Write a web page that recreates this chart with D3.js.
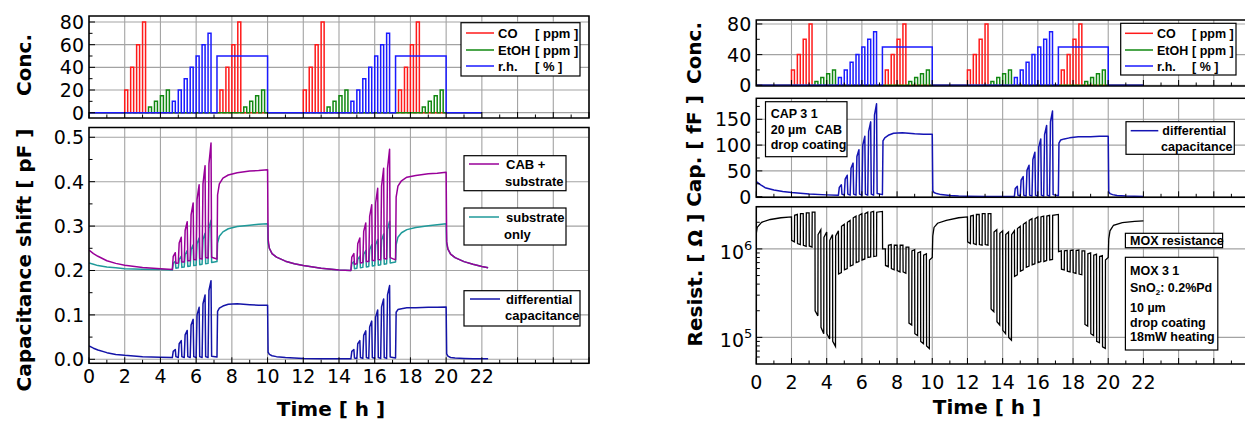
<!DOCTYPE html>
<html>
<head>
<meta charset="utf-8">
<script src="https://cdn.jsdelivr.net/npm/d3@7"></script>
<style>
  body { margin: 0; background: #fff; }
  svg text { font-family: "DejaVu Sans", sans-serif; fill: #000; }
  .tickLabel { font-size: 19px; }
  .axisTitle { font-size: 20px; font-weight: bold; }
  .leg { font-family: "Liberation Sans", Arial, sans-serif; font-weight: bold; font-size: 13px; }
  .legR { font-family: "Liberation Sans", Arial, sans-serif; font-weight: bold; font-size: 12.5px; }
</style>
</head>
<body>
<svg id="chart" width="1245" height="422"></svg>
<script>
// ---------- data ----------
const hourLabels = [0, 2, 4, 6, 8, 10, 12, 14, 16, 18, 20, 22];
const hourMajor = [0, 2, 4, 6, 8, 10, 12, 14, 16, 18, 20, 22, 24, 26, 28];
const hourMinor = [1, 3, 5, 7, 9, 11, 13, 15, 17, 19, 21, 23, 25, 27];

// gas pulses: [start h, end h, level]
const coPulses = [
  [2.0, 2.167, 20], [2.333, 2.5, 40], [2.667, 2.833, 60], [3.0, 3.167, 80],
  [7.333, 7.5, 20], [7.667, 7.833, 40], [8.0, 8.167, 60], [8.333, 8.5, 80],
  [12.0, 12.167, 20], [12.333, 12.5, 40], [12.667, 12.833, 60], [13.0, 13.167, 80],
  [17.333, 17.5, 20], [17.667, 17.833, 40], [18.0, 18.167, 60], [18.333, 18.5, 80]
];
const etohPulses = [
  [3.333, 3.5, 5], [3.667, 3.833, 10], [4.0, 4.167, 15], [4.333, 4.5, 20],
  [8.667, 8.833, 5], [9.0, 9.167, 10], [9.333, 9.5, 15], [9.667, 9.833, 20],
  [13.333, 13.5, 5], [13.667, 13.833, 10], [14.0, 14.167, 15], [14.333, 14.5, 20],
  [18.667, 18.833, 5], [19.0, 19.167, 10], [19.333, 19.5, 15], [19.667, 19.833, 20]
];
const rhPulses = [
  [4.667, 4.833, 10], [5.0, 5.167, 20], [5.333, 5.5, 30], [5.667, 5.833, 40],
  [6.0, 6.167, 50], [6.333, 6.5, 60], [6.667, 6.833, 70], [7.167, 10.0, 50],
  [14.667, 14.833, 10], [15.0, 15.167, 20], [15.333, 15.5, 30], [15.667, 15.833, 40],
  [16.0, 16.167, 50], [16.333, 16.5, 60], [16.667, 16.833, 70], [17.167, 20.0, 50]
];

// capacitance samples, common time base [h]
const capTime = [
  0, 0.25, 0.5, 1, 1.5, 2, 3, 4,
  4.667, 4.717, 4.833, 4.867,
  5.0, 5.05, 5.167, 5.2,
  5.333, 5.383, 5.5, 5.533,
  5.667, 5.717, 5.833, 5.867,
  6.0, 6.05, 6.167, 6.2,
  6.333, 6.383, 6.5, 6.533,
  6.667, 6.717, 6.833, 6.867,
  7.167, 7.2, 7.3, 7.5, 7.8, 8.3, 9, 9.5, 10,
  10.03, 10.1, 10.25, 10.5, 11, 11.5, 12, 13, 14,
  14.667, 14.717, 14.833, 14.867,
  15.0, 15.05, 15.167, 15.2,
  15.333, 15.383, 15.5, 15.533,
  15.667, 15.717, 15.833, 15.867,
  16.0, 16.05, 16.167, 16.2,
  16.333, 16.383, 16.5, 16.533,
  16.667, 16.717, 16.833, 16.867,
  17.167, 17.2, 17.3, 17.5, 17.8, 18.3, 19, 19.5, 20,
  20.03, 20.1, 20.25, 20.5, 21, 21.5, 22, 22.35
];
// CAB + substrate [pF]
const capCab = [
  0.246, 0.238, 0.232, 0.222, 0.216, 0.212, 0.207, 0.204,
  0.202, 0.232, 0.240, 0.216,
  0.217, 0.262, 0.275, 0.219,
  0.219, 0.290, 0.310, 0.222,
  0.222, 0.325, 0.352, 0.225,
  0.224, 0.360, 0.393, 0.227,
  0.226, 0.395, 0.436, 0.229,
  0.228, 0.440, 0.487, 0.230,
  0.226, 0.370, 0.395, 0.408, 0.415, 0.420, 0.424, 0.425, 0.427,
  0.270, 0.250, 0.238, 0.230, 0.221, 0.215, 0.211, 0.205, 0.201,
  0.200, 0.230, 0.238, 0.214,
  0.215, 0.260, 0.273, 0.217,
  0.218, 0.288, 0.307, 0.220,
  0.220, 0.322, 0.348, 0.223,
  0.222, 0.352, 0.385, 0.225,
  0.224, 0.390, 0.430, 0.227,
  0.226, 0.430, 0.473, 0.229,
  0.224, 0.365, 0.390, 0.402, 0.410, 0.414, 0.418, 0.419, 0.421,
  0.265, 0.248, 0.237, 0.229, 0.220, 0.214, 0.209, 0.206
];
// substrate only [pF]
const capSub = [
  0.217, 0.214, 0.211, 0.208, 0.206, 0.204, 0.203, 0.202,
  0.201, 0.216, 0.221, 0.205,
  0.206, 0.225, 0.232, 0.207,
  0.208, 0.236, 0.245, 0.209,
  0.210, 0.247, 0.258, 0.211,
  0.212, 0.260, 0.273, 0.213,
  0.214, 0.270, 0.284, 0.215,
  0.216, 0.295, 0.313, 0.218,
  0.220, 0.262, 0.277, 0.287, 0.294, 0.299, 0.302, 0.304, 0.305,
  0.262, 0.250, 0.238, 0.230, 0.221, 0.215, 0.211, 0.205, 0.201,
  0.200, 0.215, 0.220, 0.204,
  0.205, 0.225, 0.232, 0.206,
  0.207, 0.236, 0.245, 0.208,
  0.209, 0.247, 0.258, 0.210,
  0.211, 0.258, 0.270, 0.212,
  0.213, 0.268, 0.282, 0.214,
  0.215, 0.293, 0.311, 0.217,
  0.219, 0.258, 0.275, 0.285, 0.292, 0.297, 0.301, 0.303, 0.305,
  0.260, 0.248, 0.237, 0.229, 0.220, 0.214, 0.209, 0.206
];
// differential capacitance [pF]
const capDiff = [
  0.030, 0.025, 0.021, 0.015, 0.011, 0.009, 0.006, 0.0045,
  0.004, 0.018, 0.022, 0.006,
  0.004, 0.035, 0.042, 0.006,
  0.004, 0.055, 0.065, 0.006,
  0.004, 0.077, 0.090, 0.006,
  0.004, 0.100, 0.117, 0.006,
  0.004, 0.125, 0.145, 0.006,
  0.004, 0.155, 0.177, 0.007,
  0.005, 0.108, 0.115, 0.120, 0.124, 0.125, 0.123, 0.122, 0.122,
  0.016, 0.011, 0.008, 0.006, 0.004, 0.003, 0.002, 0.0015, 0.001,
  0.001, 0.018, 0.022, 0.003,
  0.002, 0.035, 0.042, 0.004,
  0.002, 0.054, 0.064, 0.004,
  0.002, 0.073, 0.086, 0.004,
  0.002, 0.095, 0.111, 0.004,
  0.002, 0.118, 0.136, 0.004,
  0.002, 0.145, 0.166, 0.005,
  0.003, 0.106, 0.112, 0.114, 0.116, 0.116, 0.117, 0.117, 0.118,
  0.012, 0.007, 0.004, 0.003, 0.002, 0.001, 0.001, 0.001
];
// differential capacitance, right chart [fF]
const capDiffFF = [
  29, 23, 17.5, 13, 10, 8, 5, 3.5,
  3, 18, 23, 5,
  3, 34, 41.5, 5,
  3, 55, 65, 5,
  3, 78, 91, 5,
  3, 100, 117, 5,
  3, 126, 145, 5,
  3, 158, 180, 6,
  4, 108, 114, 119, 123, 124, 122, 121, 121,
  12, 8, 6, 4, 2.5, 1.5, 1, 0.5, 0.5,
  0.5, 16, 20, 3,
  1, 32, 39, 3,
  1, 51, 61, 3,
  1, 72, 86, 3,
  1, 96, 112, 3,
  1, 120, 138, 3,
  1, 145, 166, 4,
  2, 104, 110, 112, 114, 116, 116, 117, 117,
  9, 6, 4, 2.5, 1.5, 1, 0.5, null
];

// MOX resistance [h, Ohm]
const resPoints = [
  [0, 1.5e6], [0.05, 1.75e6], [0.3, 2.0e6], [0.8, 2.15e6], [1.4, 2.25e6], [2.0, 2.3e6],
  [2.01, 1.25e6], [2.167, 1.2e6], [2.177, 2.4e6], [2.333, 2.45e6],
  [2.343, 1.15e6], [2.5, 1.12e6], [2.51, 2.5e6], [2.667, 2.5e6],
  [2.677, 1.1e6], [2.833, 1.07e6], [2.843, 2.55e6], [3.0, 2.55e6],
  [3.01, 1.08e6], [3.167, 1.05e6], [3.177, 2.6e6], [3.333, 2.6e6],
  [3.343, 2.0e5], [3.5, 1.75e5], [3.51, 1.45e6], [3.667, 1.65e6],
  [3.677, 1.3e5], [3.833, 1.1e5], [3.843, 1.35e6], [4.0, 1.55e6],
  [4.01, 1.1e5], [4.167, 9.6e4], [4.177, 1.25e6], [4.333, 1.45e6],
  [4.343, 9e4], [4.5, 7.9e4], [4.51, 1.4e6], [4.667, 1.6e6],
  [4.677, 5.2e5], [4.833, 5.4e5], [4.843, 1.8e6], [5.0, 1.9e6],
  [5.01, 5.8e5], [5.167, 6.0e5], [5.177, 2.0e6], [5.333, 2.1e6],
  [5.343, 6.4e5], [5.5, 6.6e5], [5.51, 2.25e6], [5.667, 2.35e6],
  [5.677, 7.0e5], [5.833, 7.2e5], [5.843, 2.4e6], [6.0, 2.5e6],
  [6.01, 7.5e5], [6.167, 7.7e5], [6.177, 2.5e6], [6.333, 2.6e6],
  [6.343, 8.0e5], [6.5, 8.1e5], [6.51, 2.6e6], [6.667, 2.65e6],
  [6.677, 8.2e5], [6.833, 8.3e5], [6.843, 2.6e6], [7.167, 2.65e6],
  [7.177, 1.0e6], [7.333, 1.0e6],
  [7.343, 6.5e5], [7.5, 6.3e5], [7.51, 1.1e6], [7.667, 1.12e6],
  [7.677, 6.0e5], [7.833, 5.8e5], [7.843, 1.1e6], [8.0, 1.1e6],
  [8.01, 5.7e5], [8.167, 5.5e5], [8.177, 1.1e6], [8.333, 1.1e6],
  [8.343, 5.5e5], [8.5, 5.3e5], [8.51, 1.05e6], [8.667, 1.05e6],
  [8.677, 1.45e5], [8.833, 1.38e5], [8.843, 9.5e5], [9.0, 9.8e5],
  [9.01, 1.1e5], [9.167, 1.05e5], [9.177, 9e5], [9.333, 9.3e5],
  [9.343, 9e4], [9.5, 8.5e4], [9.51, 8.5e5], [9.667, 8.8e5],
  [9.677, 8e4], [9.833, 7.5e4], [9.843, 7.5e5], [10.0, 8e5],
  [10.03, 1.4e6], [10.1, 1.75e6], [10.3, 1.95e6], [10.8, 2.1e6], [11.5, 2.25e6], [12.0, 2.3e6],
  [12.01, 1.2e6], [12.167, 1.15e6], [12.177, 2.35e6], [12.333, 2.4e6],
  [12.343, 1.15e6], [12.5, 1.12e6], [12.51, 2.45e6], [12.667, 2.45e6],
  [12.677, 1.12e6], [12.833, 1.1e6], [12.843, 2.5e6], [13.0, 2.5e6],
  [13.01, 1.12e6], [13.167, 1.1e6], [13.177, 2.5e6], [13.333, 2.5e6],
  [13.343, 2.1e5], [13.5, 1.95e5], [13.51, 1.55e6], [13.667, 1.65e6],
  [13.677, 1.5e5], [13.833, 1.38e5], [13.843, 1.5e6], [14.0, 1.6e6],
  [14.01, 1.2e5], [14.167, 1.1e5], [14.177, 1.45e6], [14.333, 1.55e6],
  [14.343, 1.0e5], [14.5, 9.3e4], [14.51, 1.45e6], [14.667, 1.6e6],
  [14.677, 4.9e5], [14.833, 5.1e5], [14.843, 1.7e6], [15.0, 1.8e6],
  [15.01, 5.6e5], [15.167, 5.8e5], [15.177, 1.9e6], [15.333, 2.0e6],
  [15.343, 6.2e5], [15.5, 6.4e5], [15.51, 2.1e6], [15.667, 2.2e6],
  [15.677, 6.6e5], [15.833, 6.8e5], [15.843, 2.2e6], [16.0, 2.3e6],
  [16.01, 7.0e5], [16.167, 7.2e5], [16.177, 2.3e6], [16.333, 2.35e6],
  [16.343, 7.2e5], [16.5, 7.4e5], [16.51, 2.35e6], [16.667, 2.4e6],
  [16.677, 7.5e5], [16.833, 7.6e5], [16.843, 2.4e6], [17.167, 2.45e6],
  [17.177, 9.3e5], [17.333, 9.5e5],
  [17.343, 5.9e5], [17.5, 5.8e5], [17.51, 9.5e5], [17.667, 9.6e5],
  [17.677, 5.6e5], [17.833, 5.5e5], [17.843, 9.6e5], [18.0, 9.7e5],
  [18.01, 5.4e5], [18.167, 5.3e5], [18.177, 9.6e5], [18.333, 9.7e5],
  [18.343, 5.2e5], [18.5, 5.1e5], [18.51, 9.5e5], [18.667, 9.5e5],
  [18.677, 1.4e5], [18.833, 1.34e5], [18.843, 8.8e5], [19.0, 9e5],
  [19.01, 1.1e5], [19.167, 1.05e5], [19.177, 8.5e5], [19.333, 8.7e5],
  [19.343, 9e4], [19.5, 8.7e4], [19.51, 8.2e5], [19.667, 8.4e5],
  [19.677, 7.8e4], [19.833, 7.5e4], [19.843, 7.5e5], [20.0, 8e5],
  [20.03, 1.3e6], [20.1, 1.6e6], [20.3, 1.85e6], [20.8, 1.98e6], [21.5, 2.05e6], [22.0, 2.07e6]
];

// ---------- drawing ----------
const svg = d3.select("#chart");
const gridColor = "#a3a3a3";
let clipCount = 0;

// one framed panel with grid, inward ticks and y labels
function makePanel(x, y, o) {
  const [x0, x1] = x.range();
  const [yb, yt] = y.range();
  const id = "clip" + (clipCount++);
  svg.append("clipPath").attr("id", id)
    .append("rect").attr("x", x0).attr("y", yt).attr("width", x1 - x0).attr("height", yb - yt);

  const g = svg.append("g");
  const grid = g.append("g").attr("stroke", gridColor).attr("stroke-width", 1.1);
  grid.selectAll(null).data(hourMajor).join("line")
    .attr("x1", d => x(d)).attr("x2", d => x(d)).attr("y1", yt).attr("y2", yb);
  grid.selectAll(null).data(o.yTicks).join("line")
    .attr("x1", x0).attr("x2", x1).attr("y1", d => y(d)).attr("y2", d => y(d));

  const plot = g.append("g").attr("clip-path", `url(#${id})`);
  const frame = g.append("g").attr("stroke", "#000");

  frame.selectAll(null).data(hourMajor).join("line")
    .attr("x1", d => x(d)).attr("x2", d => x(d)).attr("y1", yb).attr("y2", yb - 6);
  frame.selectAll(null).data(hourMinor).join("line")
    .attr("x1", d => x(d)).attr("x2", d => x(d)).attr("y1", yb).attr("y2", yb - 3.5);
  frame.selectAll(null).data(o.yTicks).join("line")
    .attr("x1", x0).attr("x2", x0 + 6).attr("y1", d => y(d)).attr("y2", d => y(d));
  frame.selectAll(null).data(o.yMinor).join("line")
    .attr("x1", x0).attr("x2", x0 + 3.5).attr("y1", d => y(d)).attr("y2", d => y(d));
  frame.append("rect")
    .attr("x", x0).attr("y", yt).attr("width", x1 - x0).attr("height", yb - yt)
    .attr("fill", "none").attr("stroke-width", 1.5);

  // y tick labels
  const lab = g.append("g");
  if (o.log) {
    const t = lab.selectAll(null).data(o.yTicks).join("text")
      .attr("class", "tickLabel").attr("text-anchor", "end")
      .attr("x", x0 - 4).attr("y", d => y(d) + 10);
    t.append("tspan").text("10");
    t.append("tspan").attr("dy", -9).attr("font-size", 13)
      .text(d => Math.round(Math.log10(d)));
  } else {
    lab.selectAll(null).data(o.yTicks).join("text")
      .attr("class", "tickLabel").attr("text-anchor", "end")
      .attr("x", x0 - 5).attr("y", d => y(d) + 7)
      .text(o.fmt || (d => d));
  }
  if (o.xLabels) {
    lab.selectAll(null).data(hourLabels).join("text")
      .attr("class", "tickLabel").attr("text-anchor", "middle")
      .attr("x", d => x(d)).attr("y", yb + 20 + o.xLabelShift)
      .text(d => d);
  }
  return plot;
}

// rectangular pulse trains as step lines
function pulseSteps(pulses) {
  const pts = [[0, 0]];
  pulses.forEach(p => {
    pts.push([p[0], 0], [p[0], p[2]], [p[1], p[2]], [p[1], 0]);
  });
  pts.push([22, 0]);
  return pts;
}

function drawConc(plot, x, y) {
  const line = d3.line().x(d => x(d[0])).y(d => y(d[1]));
  [[coPulses, "#ff1a1a"], [etohPulses, "#118811"], [rhPulses, "#1a1aff"]].forEach(s => {
    plot.append("path").datum(pulseSteps(s[0]))
      .attr("d", line).attr("fill", "none").attr("stroke", s[1]).attr("stroke-width", 1.5);
  });
}

function drawSeries(plot, x, y, values, color) {
  const pts = capTime.map((t, i) => [t, values[i]]);
  plot.append("path").datum(pts)
    .attr("d", d3.line().defined(d => d[1] != null).x(d => x(d[0])).y(d => y(d[1])))
    .attr("fill", "none").attr("stroke", color).attr("stroke-width", 1.5)
    .attr("stroke-linejoin", "round");
}

function legendBox(x, y, w, h) {
  svg.append("rect").attr("x", x).attr("y", y).attr("width", w).attr("height", h)
    .attr("fill", "#fff").attr("stroke", "#000").attr("stroke-width", 1.2);
}
function legendLine(x1, x2, y, color) {
  svg.append("line").attr("x1", x1).attr("x2", x2).attr("y1", y).attr("y2", y)
    .attr("stroke", color).attr("stroke-width", 1.5);
}
function label(cls, x, y, txt) {
  return svg.append("text").attr("class", cls).attr("x", x).attr("y", y).text(txt);
}
function vTitle(x, y, txt) {
  svg.append("text").attr("class", "axisTitle").attr("text-anchor", "middle")
    .attr("transform", `translate(${x},${y}) rotate(-90)`).text(txt);
}

// ----- left chart -----
const xL = d3.scaleLinear().domain([0, 28]).range([89, 589]);
const yConcL = d3.scaleLinear().domain([-4.7, 85.3]).range([118, 16]);
const yCapL = d3.scaleLinear().domain([-0.009, 0.522]).range([363.3, 127.5]);

const concL = makePanel(xL, yConcL, { yTicks: [0, 20, 40, 60, 80], yMinor: [10, 30, 50, 70] });
drawConc(concL, xL, yConcL);

const capL = makePanel(xL, yCapL, {
  yTicks: [0, 0.1, 0.2, 0.3, 0.4, 0.5], yMinor: [0.05, 0.15, 0.25, 0.35, 0.45],
  fmt: d3.format(".1f"), xLabels: true, xLabelShift: 0
});
drawSeries(capL, xL, yCapL, capSub, "#1f9a9a");
drawSeries(capL, xL, yCapL, capCab, "#990099");
drawSeries(capL, xL, yCapL, capDiff, "#1414a8");

vTitle(31, 65, "Conc.");
vTitle(31, 260, "Capacitance shift  [ pF ]");
svg.append("text").attr("class", "axisTitle").attr("text-anchor", "middle")
  .attr("x", 331).attr("y", 416).text("Time  [ h ]");

legendBox(461, 22.7, 119, 53.3);
[["CO", "[ ppm ]", "#ff1a1a", 33], ["EtOH", "[ ppm ]", "#118811", 50], ["r.h.", "[ % ]", "#1a1aff", 66]]
  .forEach(r => {
    legendLine(466, 494, r[3], r[2]);
    label("leg", 498, r[3] + 4.5, r[0]);
    label("leg", 535, r[3] + 4.5, r[1]);
  });
legendBox(464, 155.7, 102, 35);
legendLine(469, 499, 164, "#990099");
label("leg", 506, 168.5, "CAB +");
label("leg", 505, 186, "substrate");
legendBox(464, 208, 102, 37);
legendLine(469, 499, 217, "#1f9a9a");
label("leg", 506, 221.5, "substrate");
label("leg", 504, 238.5, "only");
legendBox(464, 290.7, 116, 35.3);
legendLine(470, 500, 299, "#1414a8");
label("leg", 506, 303.5, "differential");
label("leg", 505, 319.5, "capacitance");

// ----- right chart -----
const xR = d3.scaleLinear().domain([0, 28]).range([756.3, 1249]);
const yConcR = d3.scaleLinear().domain([-1, 85.2]).range([86, 20]);
const yCapR = d3.scaleLinear().domain([-1.2, 190.7]).range([197.3, 98.3]);
const yResR = d3.scaleLog().domain([5e4, 3e6]).range([364, 206.7]);

const concR = makePanel(xR, yConcR, { yTicks: [0, 40, 80], yMinor: [20, 60] });
drawConc(concR, xR, yConcR);

const capR = makePanel(xR, yCapR, { yTicks: [0, 50, 100, 150], yMinor: [25, 75, 125, 175] });
drawSeries(capR, xR, yCapR, capDiffFF, "#1414b4");

const resR = makePanel(xR, yResR, {
  yTicks: [1e5, 1e6], log: true,
  yMinor: [6e4, 7e4, 8e4, 9e4, 2e5, 3e5, 4e5, 5e5, 6e5, 7e5, 8e5, 9e5, 2e6, 3e6],
  xLabels: true, xLabelShift: 5
});
resR.append("path").datum(resPoints)
  .attr("d", d3.line().x(d => xR(d[0])).y(d => yResR(d[1])))
  .attr("fill", "none").attr("stroke", "#000").attr("stroke-width", 1.3);

vTitle(701, 53, "Conc.");
vTitle(701, 151, "Cap.  [ fF ]");
vTitle(702, 280, "Resist.  [ \u03A9 ]");
svg.append("text").attr("class", "axisTitle").attr("text-anchor", "middle")
  .attr("x", 987).attr("y", 414).text("Time  [ h ]");

legendBox(1120.7, 23.3, 115.3, 51.7);
[["CO", "[ ppm ]", "#ff1a1a", 33.3], ["EtOH", "[ ppm ]", "#118811", 50], ["r.h.", "[ % ]", "#1a1aff", 66]]
  .forEach(r => {
    legendLine(1125, 1153, r[3], r[2]);
    label("legR", 1157, r[3] + 4.5, r[0]);
    label("legR", 1192, r[3] + 4.5, r[1]);
  });
legendBox(1126, 121.7, 108.3, 32.6);
legendLine(1130.7, 1158.3, 130.7, "#1414b4");
label("legR", 1162.3, 135, "differential");
label("legR", 1161, 151, "capacitance");

legendBox(765.5, 101.7, 81.5, 55);
label("legR", 770.7, 118, "CAP 3 1");
label("legR", 770.7, 133.5, "20 \u00B5m");
label("legR", 815, 133.5, "CAB");
label("legR", 770.7, 149, "drop coating");

legendBox(1125.4, 233.3, 97.2, 14.4);
label("legR", 1130, 244.8, "MOX resistance");
legendBox(1125.4, 257.3, 92.4, 92.7);
label("legR", 1130, 275, "MOX 3 1");
const sn = label("legR", 1130, 291.5, "SnO");
sn.append("tspan").attr("font-size", 8).attr("dy", 3).text("2");
sn.append("tspan").attr("dy", -3).text(": 0.2%Pd");
label("legR", 1130, 311.5, "10 \u00B5m");
label("legR", 1130, 327, "drop coating");
label("legR", 1130, 341, "18mW heating");
</script>
</body>
</html>
